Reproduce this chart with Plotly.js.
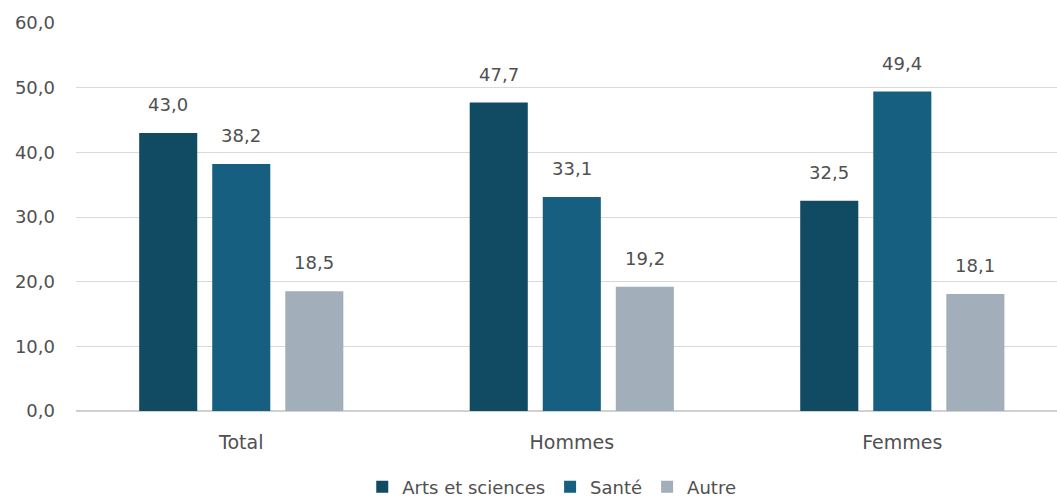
<!DOCTYPE html>
<html><head><meta charset="utf-8">
<script src="https://cdn.plot.ly/plotly-3.0.1.min.js"></script>
<style>html,body{margin:0;padding:0;background:#fff}#c{width:1057px;height:497px}</style>
</head><body><div id="c"></div>
<script>
const categories = ["Total", "Hommes", "Femmes"];
const seriesNames = ["Arts et sciences", "Santé", "Autre"];
const artsSciences = [43.0, 47.7, 32.5];
const sante = [38.2, 33.1, 49.4];
const autre = [18.5, 19.2, 18.1];
const yTicks = [0, 10, 20, 30, 40, 50, 60];
const yTickLabels = ["0,0", "10,0", "20,0", "30,0", "40,0", "50,0", "60,0"];

const colors = ["#104a63", "#175f80", "#a2afba"];
const series = [artsSciences, sante, autre];
const bargap = 0.337, bargroupgap = 0.205;
const slot = (1 - bargap) / series.length;
const fontFam = '"DejaVu Sans", sans-serif';
const txtCol = '#505050';

const traces = series.map((vals, k) => ({
  type: 'bar', name: seriesNames[k], x: categories, y: vals,
  marker: {color: colors[k]}, hoverinfo: 'none'
}));

const annotations = [];
series.forEach((vals, k) => {
  const off = (k - (series.length - 1) / 2) * slot;
  vals.forEach((v, i) => {
    annotations.push({
      x: i + off, y: v, xref: 'x', yref: 'y', text: v.toFixed(1).replace('.', ','),
      showarrow: false, yanchor: 'bottom', yshift: 16,
      font: {family: fontFam, size: 18, color: txtCol}
    });
  });
});

const layout = {
  width: 1057, height: 497,
  margin: {l: 76, r: 0, t: 23, b: 86},
  paper_bgcolor: '#fff', plot_bgcolor: '#fff',
  barmode: 'group', bargap: bargap, bargroupgap: bargroupgap,
  showlegend: true,
  legend: {orientation: 'h', x: 0.522, xref: 'container', xanchor: 'center',
    y: 0.02, yref: 'container', yanchor: 'middle',
    font: {family: fontFam, size: 18, color: txtCol}, itemclick: false, traceorder: 'normal',
    itemwidth: 30, tracegroupgap: 0},
  xaxis: {range: [-0.5, 2.468], showgrid: false, zeroline: false, showline: false, ticks: '',
    automargin: false, ticklabelstandoff: 18,
    tickfont: {family: fontFam, size: 19, color: txtCol}, fixedrange: true},
  yaxis: {range: [0, 60], tickvals: yTicks, ticktext: yTickLabels, showgrid: true,
    automargin: false,
    gridcolor: '#d9d9d9', gridwidth: 1, zeroline: true, zerolinecolor: '#d0d0d0', zerolinewidth: 1.5,
    showline: false, ticks: '', ticklabelstandoff: 20,
    tickfont: {family: fontFam, size: 18, color: txtCol}, fixedrange: true},
  annotations: annotations
};
Plotly.newPlot('c', traces, layout, {displayModeBar: false, staticPlot: true});
</script></body></html>
